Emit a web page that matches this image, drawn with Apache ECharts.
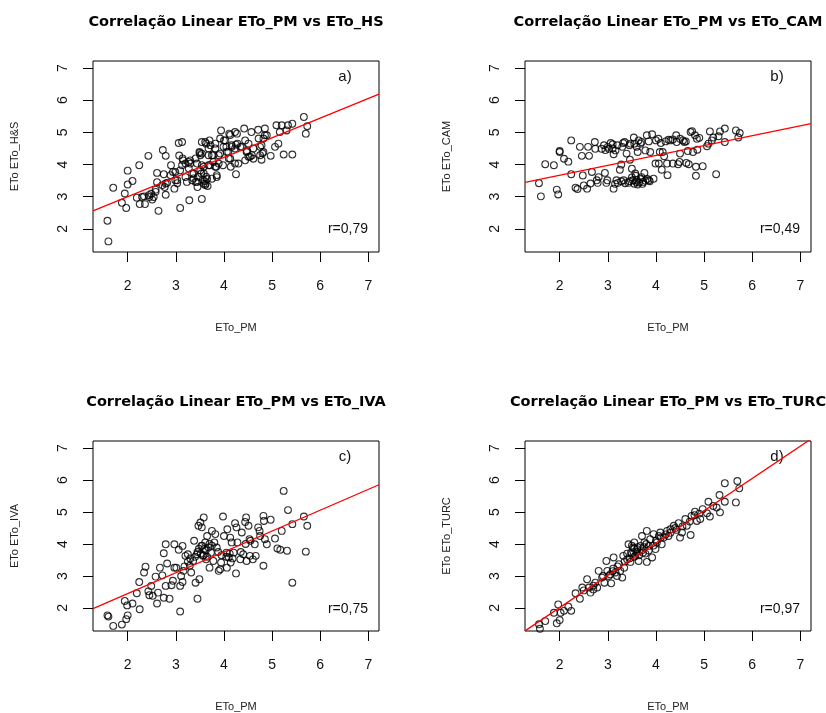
<!DOCTYPE html>
<html>
<head>
<meta charset="utf-8">
<script src="https://cdn.jsdelivr.net/npm/echarts@6/dist/echarts.min.js"></script>
<style>
  html, body { margin: 0; padding: 0; background: #fff; }
  #chart { width: 826px; height: 713px; }
</style>
</head>
<body>
<div id="chart"></div>
<script>
// eixo comum (ETo_PM) e ticks
var tickValues = [2, 3, 4, 5, 6, 7];
var titles = [
  'Correlação Linear ETo_PM vs ETo_HS',
  'Correlação Linear ETo_PM vs ETo_CAM',
  'Correlação Linear ETo_PM vs ETo_IVA',
  'Correlação Linear ETo_PM vs ETo_TURC'
];
var yNames = ['ETo ETo_H&S', 'ETo ETo_CAM', 'ETo ETo_IVA', 'ETo ETo_TURC'];
var panelTags = ['a)', 'b)', 'c)', 'd)'];
var rValues = ['r=0,79', 'r=0,49', 'r=0,75', 'r=0,97'];
// intercepto, inclinação das retas de regressão
var fitA = [1.78, 0.611];
var fitB = [3.05, 0.308];
var fitC = [1.145, 0.652];
var fitD = [-0.01, 1.01];

// pares [ETo_PM, ETo_metodo]
var hsPoints = [
  [1.58,2.25],[1.60,1.61],[1.70,3.28],[1.88,2.81],[1.94,3.10],[1.97,2.65],[2.00,3.81],[2.00,3.38],
  [2.10,3.49],[2.19,2.97],[2.24,3.98],[2.25,2.77],[2.36,2.77],[2.34,3.01],[2.43,4.27],[2.45,2.99],
  [2.49,3.09],[2.51,2.91],[2.54,2.99],[2.58,3.22],[2.61,3.74],[2.61,3.45],[2.64,2.56],[2.73,4.45],
  [2.75,3.70],[2.79,4.27],[2.79,3.06],[2.77,3.30],[2.82,3.43],[2.90,3.98],[2.94,3.77],[2.97,3.25],
  [2.99,3.51],[3.03,3.42],[3.06,4.67],[3.07,4.28],[3.09,2.65],[3.13,4.70],[3.09,3.82],[3.15,4.13],
  [3.13,3.98],[3.20,3.61],[3.23,3.46],[3.28,2.89],[3.27,4.08],[3.30,4.03],[3.34,3.51],[3.37,3.72],
  [3.41,3.46],[3.44,4.03],[3.45,3.30],[3.49,4.39],[3.51,4.29],[3.54,4.70],[3.54,2.93],[3.53,3.72],
  [3.58,3.93],[3.61,3.36],[3.63,4.65],[3.68,4.29],[3.70,4.75],[3.71,3.98],[3.75,3.56],[3.78,4.29],
  [3.82,4.65],[3.84,3.93],[3.85,3.61],[3.89,4.03],[3.92,4.34],[3.94,5.06],[3.98,3.98],[4.00,4.75],
  [4.05,4.55],[4.09,4.39],[4.11,4.96],[4.13,4.18],[4.14,3.93],[4.16,4.55],[4.25,3.70],[4.23,4.03],
  [4.27,4.96],[4.28,4.65],[4.34,4.55],[4.42,5.12],[4.44,4.13],[4.47,4.39],[4.51,4.65],[4.54,4.24],
  [4.57,5.01],[4.61,4.18],[4.71,5.08],[4.75,4.55],[4.78,4.15],[4.82,4.39],[4.85,5.12],[4.82,4.81],
  [4.89,4.91],[4.97,4.27],[5.06,4.55],[5.09,5.22],[5.13,4.65],[5.16,5.01],[5.20,5.22],[5.24,4.31],
  [5.30,5.06],[5.33,5.22],[5.42,5.27],[5.42,4.31],[5.66,5.48],[5.70,4.96],[5.73,5.19],
  [3.14,4.19],[3.20,4.03],[3.27,3.88],[3.34,3.72],[3.37,3.57],[3.44,3.46],[3.47,3.62],[3.51,3.82],
  [3.54,3.98],[3.58,3.72],[3.62,3.40],[3.50,4.36],[3.54,4.34],[3.61,4.70],[3.72,4.60],[3.75,4.29],
  [3.78,4.08],[3.82,3.93],[3.85,3.67],[3.68,3.98],[3.89,4.29],[3.99,4.55],[4.03,4.75],[4.06,4.39],
  [4.10,4.19],[4.13,4.92],[4.16,4.60],[4.23,4.50],[4.25,4.62],[4.30,4.03],[4.37,4.55],[4.44,4.75],
  [4.48,4.42],[4.51,4.24],[4.58,4.29],[4.61,4.50],[4.72,4.81],[4.75,4.29],[4.78,4.60],[4.80,4.35],
  [4.85,4.91],[2.99,3.77],[3.03,3.51],[2.89,3.67],[2.79,3.41],[2.72,3.36],[2.58,3.15],[2.44,3.05],
  [2.30,2.99],[3.41,4.19],[3.30,4.13],[3.68,4.50],[3.82,4.50],[3.92,4.81],[4.23,5.01],[3.56,3.52],
  [3.60,3.48],[3.65,3.55],[3.58,3.40],[3.63,3.62],[3.66,3.33]
];
var camPoints = [
  [1.57,3.42],[1.61,3.01],[1.70,4.01],[1.88,3.98],[1.94,3.22],[1.97,3.07],[2.00,4.39],[2.00,4.42],
  [2.09,4.18],[2.18,4.09],[2.24,4.75],[2.24,3.70],[2.33,3.28],[2.37,3.24],[2.42,4.55],[2.46,4.27],
  [2.48,3.66],[2.50,3.35],[2.57,3.25],[2.59,4.55],[2.61,4.27],[2.64,3.41],[2.67,3.77],[2.73,4.70],
  [2.74,4.49],[2.77,3.51],[2.79,3.43],[2.81,3.61],[2.87,4.49],[2.92,4.60],[2.94,3.74],[2.97,3.43],
  [2.99,3.51],[3.02,4.49],[3.06,4.67],[3.10,4.63],[3.12,4.32],[3.12,3.25],[3.16,4.44],[3.18,3.51],
  [3.21,3.43],[3.25,3.84],[3.28,4.00],[3.30,4.55],[3.32,4.67],[3.33,3.51],[3.39,4.34],[3.43,3.43],
  [3.46,4.15],[3.47,4.65],[3.50,3.87],[3.52,3.51],[3.54,4.84],[3.55,4.65],[3.57,3.72],[3.59,3.46],
  [3.62,4.39],[3.64,4.75],[3.68,4.65],[3.70,3.61],[3.73,3.46],[3.76,3.74],[3.78,4.44],[3.81,4.91],
  [3.85,3.51],[3.88,4.39],[3.92,4.94],[3.95,3.56],[3.99,4.03],[4.00,4.75],[4.06,4.03],[4.08,4.39],
  [4.10,4.67],[4.12,3.84],[4.14,4.39],[4.17,4.26],[4.23,4.03],[4.24,3.67],[4.26,4.77],[4.30,4.75],
  [4.35,4.03],[4.42,4.91],[4.43,4.70],[4.46,4.01],[4.49,4.08],[4.50,4.34],[4.56,4.75],[4.59,4.70],
  [4.63,4.05],[4.66,4.42],[4.68,4.01],[4.72,5.01],[4.75,5.04],[4.77,4.39],[4.81,4.91],[4.83,3.93],
  [4.83,3.65],[4.85,4.80],[4.86,4.46],[4.90,4.83],[4.97,3.95],[5.06,4.57],[5.09,4.65],[5.12,5.03],
  [5.16,4.75],[5.19,4.84],[5.25,3.70],[5.30,4.88],[5.33,5.03],[5.43,5.12],[5.43,4.70],[5.66,5.06],
  [5.71,4.84],[5.74,4.98],
  [3.45,3.48],[3.55,3.40],[3.60,3.52],[3.65,3.44],[3.68,3.55],[3.72,3.40],[3.78,3.50],[3.82,3.55],
  [3.87,3.48],[3.50,3.60],[3.58,3.65],[3.62,3.38],[3.36,3.42],[3.28,3.48],[3.15,3.40],[3.10,4.50],
  [3.20,4.60],[3.35,4.70],[3.45,4.60],[3.60,4.55],[3.70,4.70],[3.85,4.72],[4.05,4.80],[4.20,4.72],
  [4.35,4.78],[4.50,4.80],[4.62,4.72],[3.00,4.55],[2.95,4.45]
];
var ivaPoints = [
  [1.58,1.77],[1.60,1.73],[1.70,1.44],[1.88,1.48],[1.94,2.22],[1.97,1.65],[2.00,1.77],[1.99,2.08],
  [2.10,2.14],[2.19,2.46],[2.24,2.81],[2.25,1.96],[2.34,3.11],[2.37,3.29],[2.43,2.52],[2.45,2.40],
  [2.49,2.69],[2.52,2.38],[2.58,2.98],[2.61,2.14],[2.63,2.48],[2.67,3.26],[2.72,3.02],[2.75,3.71],
  [2.75,2.32],[2.79,3.99],[2.79,2.69],[2.82,3.39],[2.87,2.29],[2.91,2.71],[2.94,2.85],[2.97,3.99],
  [2.97,3.26],[3.01,3.26],[3.06,3.82],[3.09,1.89],[3.09,2.69],[3.11,3.00],[3.14,3.94],[3.14,2.81],
  [3.16,3.16],[3.20,3.63],[3.25,3.68],[3.29,3.32],[3.32,3.11],[3.36,3.47],[3.38,4.10],[3.41,2.79],
  [3.44,3.68],[3.45,2.29],[3.47,4.57],[3.49,2.90],[3.51,4.67],[3.53,3.94],[3.54,4.52],[3.56,3.63],
  [3.58,4.83],[3.59,3.84],[3.61,4.05],[3.63,3.52],[3.65,4.25],[3.68,3.89],[3.70,3.26],[3.73,3.73],
  [3.75,4.41],[3.78,3.47],[3.82,4.31],[3.85,3.89],[3.89,3.16],[3.92,3.21],[3.94,3.42],[3.98,4.86],
  [4.00,4.25],[4.05,3.73],[4.06,3.26],[4.07,4.46],[4.10,3.58],[4.13,4.20],[4.14,3.42],[4.16,4.05],
  [4.20,3.73],[4.23,4.65],[4.25,3.08],[4.26,4.52],[4.28,4.05],[4.34,3.52],[4.37,4.36],[4.40,3.68],
  [4.44,4.69],[4.46,4.83],[4.47,3.47],[4.51,4.57],[4.53,4.15],[4.54,3.63],[4.60,3.52],[4.64,3.99],
  [4.66,3.63],[4.71,4.52],[4.74,4.41],[4.75,4.25],[4.82,4.88],[4.82,3.32],[4.83,4.72],[4.85,4.15],
  [4.89,3.99],[4.97,4.76],[5.06,4.17],[5.11,3.86],[5.17,3.82],[5.20,4.41],[5.24,5.66],[5.31,3.79],
  [5.33,5.06],[5.42,4.62],[5.42,2.79],[5.66,4.86],[5.70,3.76],[5.73,4.57],
  [3.45,3.75],[3.55,3.95],[3.62,3.80],[3.70,4.00],[3.58,3.65],[3.65,3.60],[3.52,3.70],[3.48,3.85],
  [3.75,3.95],[3.80,4.05],[3.40,3.60],[3.30,3.55],[3.25,3.45],[3.18,3.30],[4.05,3.60],[4.12,3.70],
  [4.18,3.55],[3.88,3.75],[3.95,3.65],[4.35,3.75],[4.45,4.00],[4.55,4.10]
];
var turcPoints = [
  [1.59,1.35],[1.57,1.49],[1.70,1.59],[1.88,1.85],[1.94,1.52],[1.97,2.11],[2.00,1.62],[2.02,1.85],
  [2.09,1.91],[2.18,2.04],[2.24,1.91],[2.33,2.46],[2.42,2.29],[2.47,2.64],[2.57,2.90],[2.61,2.64],
  [2.64,2.48],[2.70,2.58],[2.74,2.79],[2.78,2.64],[2.81,3.16],[2.88,2.95],[2.93,2.79],[2.97,3.47],
  [2.99,3.16],[3.02,3.00],[3.07,2.77],[3.11,3.23],[3.12,3.58],[3.16,3.11],[3.19,3.00],[3.23,3.37],
  [3.26,3.16],[3.30,2.95],[3.32,3.63],[3.34,3.26],[3.40,3.52],[3.43,3.99],[3.47,3.44],[3.48,3.73],
  [3.52,3.89],[3.55,4.05],[3.57,3.63],[3.61,3.84],[3.64,3.47],[3.68,3.94],[3.71,4.25],[3.73,3.73],
  [3.76,4.05],[3.81,4.41],[3.81,3.44],[3.85,3.94],[3.88,4.15],[3.92,3.58],[3.95,4.31],[3.99,3.84],
  [4.02,4.05],[4.06,4.25],[4.09,4.36],[4.12,3.99],[4.16,4.20],[4.23,4.41],[4.26,4.25],[4.30,4.46],
  [4.37,4.57],[4.43,4.44],[4.47,4.65],[4.50,4.20],[4.54,4.36],[4.61,4.78],[4.64,4.57],[4.72,4.28],
  [4.74,4.88],[4.81,5.01],[4.85,4.72],[4.92,4.78],[4.97,5.09],[5.06,4.96],[5.09,5.32],[5.12,4.86],
  [5.19,5.19],[5.26,5.14],[5.32,5.53],[5.33,4.99],[5.43,5.90],[5.43,5.32],[5.69,5.97],[5.66,5.30],
  [5.73,5.74],
  [3.45,3.55],[3.50,3.70],[3.55,3.60],[3.60,3.75],[3.62,3.90],[3.65,3.65],[3.70,3.80],[3.75,3.90],
  [3.78,3.70],[3.80,4.00],[3.55,3.85],[3.50,3.95],[3.40,3.70],[3.35,3.45],[3.20,3.30],[3.10,3.15],
  [3.05,3.05],[2.90,3.00],[2.70,2.70],[2.50,2.55],[4.00,4.10],[4.10,4.20],[4.20,4.30],[4.30,4.35],
  [4.40,4.50],[4.55,4.55],[4.70,4.70],[4.80,4.90],[4.90,4.95],[3.95,3.95],[3.85,3.80]
];

var panels = [
  { points: hsPoints, fit: fitA },
  { points: camPoints, fit: fitB },
  { points: ivaPoints, fit: fitC },
  { points: turcPoints, fit: fitD }
];

var axisMin = 1.28, axisMax = 7.22;
var boxes = [
  { left: 93, top: 61 }, { left: 525, top: 61 },
  { left: 93, top: 441 }, { left: 525, top: 441 }
];
var boxW = 286, boxH = 191;
var fontFam = '"Liberation Sans", Arial, sans-serif';

var grid = [], xAxis = [], yAxis = [], series = [], graphic = [];
panels.forEach(function (p, i) {
  var b = boxes[i];
  grid.push({ left: b.left, top: b.top, width: boxW, height: boxH,
    show: true, borderColor: '#000', borderWidth: 1, backgroundColor: 'transparent' });
  var axisBase = {
    gridIndex: i, type: 'value', min: axisMin, max: axisMax,
    splitLine: { show: false },
    axisLine: { show: false },
    axisTick: { show: true, length: 10, customValues: tickValues, lineStyle: { color: '#000', width: 1 } },
    nameLocation: 'middle',
    nameTextStyle: { fontFamily: fontFam, fontSize: 11, color: '#222' }
  };
  xAxis.push(Object.assign({}, axisBase, {
    name: 'ETo_PM', nameGap: 70,
    axisLabel: { customValues: tickValues, margin: 27, fontFamily: fontFam, fontSize: 14, color: '#111' }
  }));
  yAxis.push(Object.assign({}, axisBase, {
    name: yNames[i], nameGap: 73,
    axisLabel: { customValues: tickValues, margin: 23, rotate: 90, fontFamily: fontFam, fontSize: 14, color: '#111' }
  }));
  series.push({
    type: 'scatter', xAxisIndex: i, yAxisIndex: i, data: p.points,
    symbol: 'circle', symbolSize: 6.8, silent: true,
    itemStyle: { color: 'rgba(0,0,0,0)', borderColor: '#000', borderWidth: 1.1 }
  });
  series.push({
    type: 'line', xAxisIndex: i, yAxisIndex: i, clip: true, symbol: 'none', silent: true,
    data: [[axisMin, p.fit[0] + p.fit[1] * axisMin], [axisMax, p.fit[0] + p.fit[1] * axisMax]],
    lineStyle: { color: '#ff0000', width: 1.3 }, z: 5
  });
  var cx = b.left + boxW / 2;
  graphic.push({ type: 'text', x: cx, y: b.top - 39, style: { text: titles[i], align: 'center', verticalAlign: 'middle',
    font: 'bold 14.5px "DejaVu Sans", sans-serif', fill: '#000' } });
  graphic.push({ type: 'text', x: b.left + 252, y: b.top + 16, style: { text: panelTags[i], align: 'center', verticalAlign: 'middle',
    font: '15px ' + fontFam, fill: '#111' } });
  graphic.push({ type: 'text', x: b.left + 275, y: b.top + 168, style: { text: rValues[i], align: 'right', verticalAlign: 'middle',
    font: '14px ' + fontFam, fill: '#111' } });
});

var chart = echarts.init(document.getElementById('chart'), null, { renderer: 'canvas' });
chart.setOption({
  backgroundColor: '#fff',
  animation: false,
  grid: grid, xAxis: xAxis, yAxis: yAxis, series: series, graphic: graphic
});
</script>
</body>
</html>
